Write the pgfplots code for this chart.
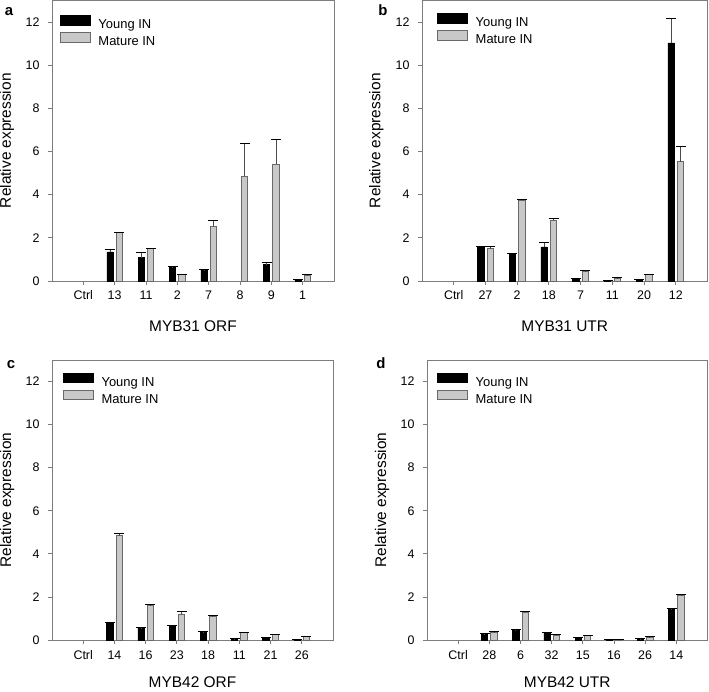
\documentclass[border=0pt]{standalone}
\usepackage{pgfplots}
\pgfplotsset{compat=1.18}
\usepackage{fontspec}
\setmainfont{Liberation Sans}
\definecolor{matgray}{RGB}{200,200,200}
\definecolor{matedge}{RGB}{105,105,105}
\definecolor{framegray}{RGB}{125,125,125}
\definecolor{errgray}{RGB}{75,75,75}
\pgfplotsset{
  panel/.style={
    scale only axis,
    ymin=0, ymax=13, xmin=-1, xmax=8,
    ytick={0,2,...,12}, xtick={0,...,7},
    xtick pos=bottom, ytick pos=left,
    tick align=outside, major tick length=4bp,
    axis line style={framegray, line width=0.8bp},
    tick style={framegray, line width=0.8bp},
    /pgf/number format/assume math mode=true,
    tick label style={font=\fontsize{12.5}{14}\selectfont},
    yticklabel style={anchor=east, xshift=-5bp},
    xticklabel style={anchor=base, yshift=-15bp},
    label style={font=\fontsize{15.5}{18}\selectfont},
    ylabel={Relative expression},
    ylabel style={at={(axis description cs:-0.16,0.5)}, anchor=center},
    xlabel style={at={(axis description cs:0.5,0)}, anchor=center, yshift=-45bp},
    ybar, bar width=0.2,
    clip=false,
    legend style={draw=none, fill=none, anchor=north west, inner sep=0pt,
      font=\fontsize{13}{15}\selectfont, row sep=0.5bp,
      nodes={inner ysep=1.5bp, inner xsep=2bp}},
    legend cell align=left,
    legend image code/.code={\draw[##1] (0bp,-0.3bp) rectangle (30bp,9.3bp);
      \path[draw=none, fill=none] (30bp,0bp) -- (36bp,0bp);},
    error bars/y dir=plus, error bars/y explicit,
    error bars/error bar style={errgray, line width=0.8bp},
    error bars/error mark options={black, rotate=90, mark size=5bp, line width=0.8bp},
  },
  young/.style={fill=black, draw=black, line width=0.6bp, bar shift=-0.15},
  mature/.style={fill=matgray, draw=matedge, line width=0.8bp, bar shift=0.15},
}
\begin{document}
\begin{tikzpicture}
% Panel a
\begin{axis}[panel, name=pa, at={(52bp,411bp)}, anchor=south west,
  width=282bp, height=280.5bp,
  xticklabels={Ctrl,13,11,2,7,8,9,1}, xlabel={MYB31 ORF},
  legend style={at={(axis description cs:0.028,0.948)}}]
\addplot[young] coordinates {(1,1.35) +- (0,0.12) (2,1.08) +- (0,0.24) (3,0.65) +- (0,0.02) (4,0.50) +- (0,0.02) (6,0.76) +- (0,0.11) (7,0.06) +- (0,0.01)};
\addplot[mature] coordinates {(1,2.23) +- (0,0.02) (2,1.50) +- (0,0.02) (3,0.29) +- (0,0.02) (4,2.54) +- (0,0.25) (5,4.86) +- (0,1.50) (6,5.42) +- (0,1.15) (7,0.26) +- (0,0.03)};
\legend{Young IN, Mature IN}
\end{axis}
% Panel b
\begin{axis}[panel, name=pb, at={(422bp,411bp)}, anchor=south west,
  width=285.5bp, height=280.5bp,
  xticklabels={Ctrl,27,2,18,7,11,20,12}, xlabel={MYB31 UTR},
  legend style={at={(axis description cs:0.053,0.955)}}]
\addplot[young] coordinates {(1,1.58) +- (0,0.02) (2,1.27) +- (0,0.02) (3,1.58) +- (0,0.19) (4,0.10) +- (0,0.02) (5,0.02) +- (0,0.01) (6,0.06) +- (0,0.03) (7,11.03) +- (0,1.13)};
\addplot[mature] coordinates {(1,1.50) +- (0,0.11) (2,3.75) +- (0,0.03) (3,2.82) +- (0,0.08) (4,0.46) +- (0,0.02) (5,0.11) +- (0,0.05) (6,0.29) +- (0,0.03) (7,5.53) +- (0,0.73)};
\legend{Young IN, Mature IN}
\end{axis}
% Panel c
\begin{axis}[panel, name=pc, at={(52bp,52bp)}, anchor=south west,
  width=281bp, height=280bp,
  xticklabels={Ctrl,14,16,23,18,11,21,26}, xlabel={MYB42 ORF},
  xlabel style={yshift=2.5bp},
  legend style={at={(axis description cs:0.039,0.955)}}]
\addplot[young] coordinates {(1,0.82) +- (0,0.02) (2,0.56) +- (0,0.02) (3,0.67) +- (0,0.02) (4,0.36) +- (0,0.02) (5,0.05) +- (0,0.01) (6,0.11) +- (0,0.02) (7,0.03) +- (0,0.01)};
\addplot[mature] coordinates {(1,4.85) +- (0,0.11) (2,1.59) +- (0,0.08) (3,1.21) +- (0,0.12) (4,1.10) +- (0,0.02) (5,0.33) +- (0,0.03) (6,0.25) +- (0,0.02) (7,0.17) +- (0,0.02)};
\legend{Young IN, Mature IN}
\end{axis}
% Panel d
\begin{axis}[panel, name=pd, at={(427bp,52bp)}, anchor=south west,
  width=280.5bp, height=280bp,
  xticklabels={Ctrl,28,6,32,15,16,26,14}, xlabel={MYB42 UTR},
  xlabel style={yshift=2.5bp},
  legend style={at={(axis description cs:0.036,0.955)}}]
\addplot[young] coordinates {(1,0.26) +- (0,0.03) (2,0.46) +- (0,0.02) (3,0.33) +- (0,0.02) (4,0.11) +- (0,0.02) (5,0.02) +- (0,0.01) (6,0.05) +- (0,0.01) (7,1.44) +- (0,0.02)};
\addplot[mature] coordinates {(1,0.36) +- (0,0.03) (2,1.29) +- (0,0.04) (3,0.23) +- (0,0.03) (4,0.20) +- (0,0.02) (5,0.03) +- (0,0.01) (6,0.12) +- (0,0.03) (7,2.09) +- (0,0.02)};
\legend{Young IN, Mature IN}
\end{axis}
\node[anchor=base, font=\bfseries\fontsize{15}{18}\selectfont] at (9bp,676bp) {a};
\node[anchor=base, font=\bfseries\fontsize{15}{18}\selectfont] at (383bp,676bp) {b};
\node[anchor=base, font=\bfseries\fontsize{15}{18}\selectfont] at (11bp,323bp) {c};
\node[anchor=base, font=\bfseries\fontsize{15}{18}\selectfont] at (381bp,323bp) {d};
\pgfresetboundingbox
\useasboundingbox (0bp,0bp) rectangle (709bp,692bp);
\end{tikzpicture}
\end{document}
